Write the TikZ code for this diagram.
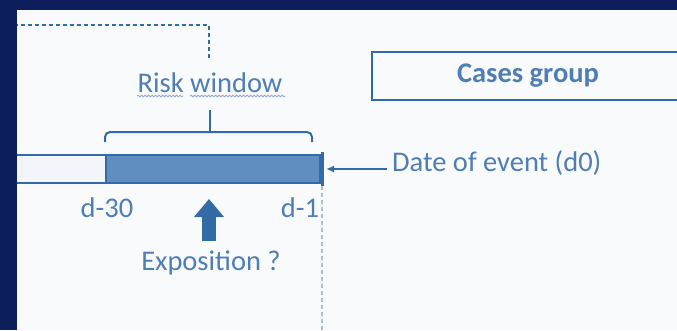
\documentclass[tikz,border=0pt]{standalone}
\usepackage{fontspec}
\setmainfont{Carlito}
\usetikzlibrary{arrows.meta,positioning,decorations.pathmorphing}
\definecolor{navy}{HTML}{0C1E5B}
\definecolor{paper}{HTML}{F9FAFC}
\definecolor{ink}{HTML}{336BA6}
\definecolor{label}{HTML}{4F7EB4}
\definecolor{riskfill}{HTML}{5E8FC0}
\definecolor{prefill}{HTML}{F2F5FA}
\definecolor{guide}{HTML}{A8C0DC}
\definecolor{squig}{HTML}{93AACB}

\begin{document}
\begin{tikzpicture}[x=1pt,y=-1pt,>=Latex,
  lbl/.style={text=label,font=\fontsize{28.5}{32}\selectfont,inner sep=0pt},
  seg/.style={draw=ink,line width=2pt,minimum height=28pt,inner sep=0pt,anchor=west},
  dots/.style={ink,line width=2pt,dash pattern=on 4pt off 3pt},
  wavy/.style={squig,line width=0.8pt,decorate,decoration={snake,amplitude=0.9pt,segment length=3.5pt}}]
\useasboundingbox (0,0) rectangle (677,330);
\fill[paper] (0,0) rectangle (677,330);
\coordinate (tl) at (0,25); \coordinate (tc) at (209,25); \coordinate (tb) at (209,58);
\draw[dots] (tl) -- (tc) -- (tb);
\node[lbl] (riskw) at (210,83) {Risk window};
\draw[wavy] (137,96) -- (183,96); \draw[wavy] (190,96) -- (285,96);
\coordinate (stem) at (210,110); \coordinate (bt) at (210,132);
\coordinate (bl) at (105,142); \coordinate (br) at (312,142);
\draw[ink,line width=2pt] (stem) -- (bt);
\draw[ink,line width=2pt,rounded corners=5pt] (bl) |- (bt) -| (br);
\node[seg,fill=prefill,minimum width=105pt] (pre) at (0,169) {};
\node[seg,fill=riskfill,minimum width=214pt] (risk) at (105,169) {};
\coordinate (d0top) at (322,152); \coordinate (d0bot) at (322,186); \coordinate (d0end) at (322,330);
\draw[guide,line width=1.3pt,dash pattern=on 4pt off 3pt] (d0bot) -- (d0end);
\draw[ink,line width=3pt] (d0top) -- (d0bot);
\node[draw=ink,line width=2pt,minimum width=312pt,minimum height=48pt,text=label,font=\bfseries\fontsize{28.5}{32}\selectfont] (cases) at (528,76) {Cases group};
\node[lbl,anchor=west] (event) at (392,163) {Date of event (d0)};
\coordinate (evstart) at (387,169); \coordinate (evend) at (326,169);
\draw[ink,line width=2pt,-{Latex[length=8pt,width=7pt]}] (evstart) -- (evend);
\node[lbl] (d30) at (107,208) {d-30};
\node[lbl] (d1) at (300,208) {d-1};
\node[lbl] (expo) at (211,263) {Exposition ?};
\coordinate (expobase) at (209,241); \coordinate (expotip) at (209,199);
\draw[ink,line width=14pt,-{Triangle[length=18pt,width=29pt]}] (expobase) -- (expotip);
\fill[navy] (0,0) rectangle (677,10);
\fill[navy] (0,0) rectangle (17,330);
\end{tikzpicture}
\end{document}
